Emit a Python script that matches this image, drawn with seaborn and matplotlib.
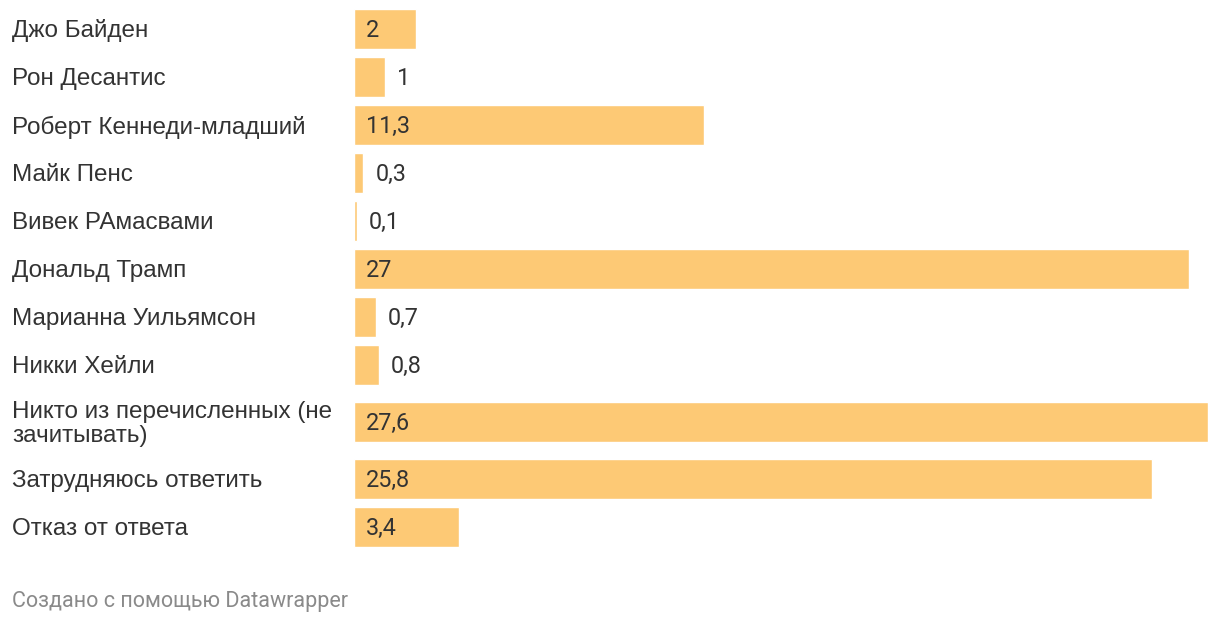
'''
Horizontal bar chart : candidate support (Datawrapper style) with seaborn
'''

# Importing the libraries
import numpy as np
import pandas as pd
import seaborn as sns
import matplotlib.pyplot as plt
import matplotlib.transforms as mtransforms

# Chart data
candidates = ["Джо Байден", "Рон Десантис", "Роберт Кеннеди-младший", "Майк Пенс",
              "Вивек РАмасвами", "Дональд Трамп", "Марианна Уильямсон", "Никки Хейли",
              "Никто из перечисленных (не\nзачитывать)", "Затрудняюсь ответить",
              "Отказ от ответа"]
shares = [2, 1, 11.3, 0.3, 0.1, 27, 0.7, 0.8, 27.6, 25.8, 3.4]
footer_text = "Создано с помощью Datawrapper"

BAR_COLOR = "#fdc975"
TEXT_COLOR = "#333333"


# Format numbers the Russian way (comma decimal)
def fmt(v):
    if float(v).is_integer():
        return str(int(v))
    return ("%.1f" % v).replace(".", ",")


# Row positions: a wrapped (two line) label takes a bit more room
def rowPositions(labels):
    pos = []
    y = 0.0
    prev_extra = 0.0
    for i, lab in enumerate(labels):
        extra = 0.375 * lab.count("\n")
        if i > 0:
            y += 1 + prev_extra / 2 + extra / 2
        pos.append(y)
        prev_extra = extra
    return pos


def main():
    sns.set_theme(style="white")
    plt.rcParams['font.family'] = ['Roboto', 'DejaVu Sans']

    df = pd.DataFrame({"label": candidates, "value": shares,
                       "pos": rowPositions(candidates)})

    fig = plt.figure(figsize=(12.2, 6.24), dpi=100)
    ax = fig.add_axes([354 / 1220, 1 - 570 / 624, 854 / 1220, 570 / 624])

    # Bars
    sns.barplot(data=df, x="value", y="pos", orient="h", native_scale=True,
                color=BAR_COLOR, saturation=1, width=0.82, ax=ax)

    ax.set_xlim(0, 27.6)
    ax.set_ylim(11.27, -0.604)
    ax.set_axis_off()

    # small downward nudge so text sits like the original
    nudge = 0.04

    # Labels on the left (figure x, data y)
    trans = mtransforms.blended_transform_factory(fig.transFigure, ax.transData)
    for _, row in df.iterrows():
        ax.text(12 / 1220, row["pos"] + nudge, row["label"], transform=trans,
                ha="left", va="center", fontsize=17.5, color=TEXT_COLOR,
                family=['Liberation Sans', 'DejaVu Sans'], linespacing=1.07)

    # Value labels: inside bar if wide enough, otherwise right of bar
    px = 27.6 / 854
    for _, row in df.iterrows():
        v = row["value"]
        if v >= 2:
            ax.text(12 * px, row["pos"] + nudge, fmt(v), ha="left", va="center",
                    fontsize=16.8, color=TEXT_COLOR)
        else:
            ax.text(v + 12 * px, row["pos"] + nudge, fmt(v), ha="left", va="center",
                    fontsize=16.8, color=TEXT_COLOR)

    # Footer
    fig.text(12 / 1220, 1 - 601 / 624, footer_text, ha="left", va="center",
             fontsize=15.5, color="#8a8a8a")

    fig.savefig("out.png", dpi=100, facecolor="white")


main()
